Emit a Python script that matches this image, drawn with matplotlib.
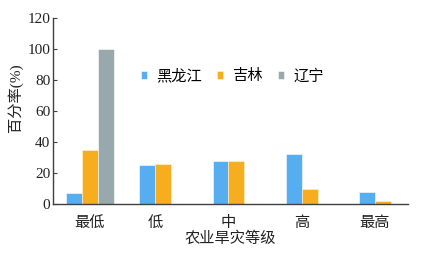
import numpy as np
import matplotlib
matplotlib.use('Agg')
import matplotlib.pyplot as plt

plt.rcParams['font.family'] = ['Liberation Serif', 'Noto Sans CJK SC']

levels = ['最低', '低', '中', '高', '最高']
heilongjiang = [7, 25, 27.5, 32, 8]
jilin = [35, 25.5, 27.5, 9.5, 2]
liaoning = [100, None, None, None, None]
series_names = ['黑龙江', '吉林', '辽宁']
colors = ['#56AEF0', '#F6AE1E', '#97A9AD']

w = 0.218
x = np.arange(len(levels))
offsets = [-w / 2, w / 2, 1.5 * w]
all_series = [heilongjiang, jilin, liaoning]

fig = plt.figure(figsize=(4.41, 2.54), dpi=100)
ax = fig.add_axes([0.120, 0.197, 0.8045, 0.733])

tick_pos = []
for i in range(len(levels)):
    present = [x[i] + offsets[k] for k in range(3) if all_series[k][i] is not None]
    tick_pos.append(np.mean(present))

for k, vals in enumerate(all_series):
    xs = [x[i] + offsets[k] for i in range(len(levels)) if vals[i] is not None]
    ys = [v for v in vals if v is not None]
    ax.bar(xs, ys, width=w, color=colors[k], edgecolor='#FFF3D6' if k == 1 else 'white',
           linewidth=0.4, label=series_names[k])

ax.set_xlim(-0.396, 4.446)
ax.set_ylim(0, 120)
ax.set_yticks([0, 20, 40, 60, 80, 100, 120])
ax.set_xticks(tick_pos)
ax.set_xticklabels(levels)
for s in ['top', 'right']:
    ax.spines[s].set_visible(False)
for s in ['left', 'bottom']:
    ax.spines[s].set_color('#404040')
    ax.spines[s].set_linewidth(1.0)
ax.tick_params(axis='y', direction='in', length=3, width=0.8, color='#404040',
               labelsize=11, pad=2, labelcolor='#222222')
ax.tick_params(axis='x', length=0, labelsize=11, pad=9, labelcolor='#222222')

ax.set_xlabel('农业旱灾等级', fontsize=11, labelpad=1, color='#222222')
ax.set_ylabel('百分率(%)', fontsize=11, labelpad=2, color='#222222')
ax.yaxis.set_label_coords(-0.085, 0.57)

leg = ax.legend(loc='upper center', bbox_to_anchor=(0.505, 0.8), ncol=3, frameon=False,
                fontsize=11, handlelength=0.4, handleheight=0.4, handletextpad=0.6,
                columnspacing=1.0)

fig.savefig('out.png', dpi=100)
